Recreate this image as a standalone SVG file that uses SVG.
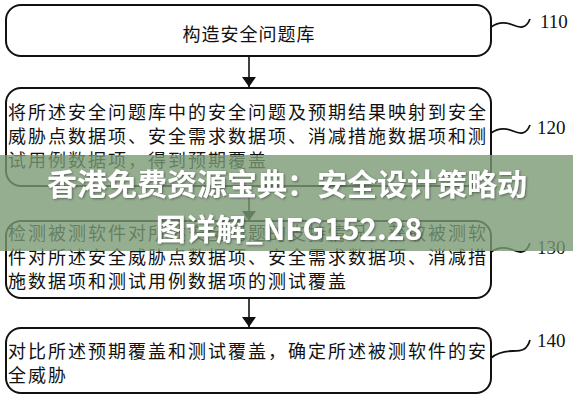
<svg xmlns="http://www.w3.org/2000/svg" width="573" height="400" viewBox="0 0 573 400">
<defs>
<style>
.box{fill:#fff;stroke:#111;stroke-width:2}
.t{font-family:"Noto Sans CJK SC","Noto Sans CJK JP",sans-serif;font-size:18px;letter-spacing:2px;fill:#111;dominant-baseline:central}
.lbl{font-family:"Liberation Serif",serif;font-size:19px;fill:#111}
.conn{fill:none;stroke:#111;stroke-width:1.6}
.tilde{fill:none;stroke:#111;stroke-width:1.8}
.ov{font-family:"Noto Sans CJK SC",sans-serif;font-size:30px;font-weight:700;fill:#fff;text-anchor:middle}
</style>
<marker id="ah" viewBox="0 0 10 14" refX="10" refY="7" markerWidth="10" markerHeight="14" markerUnits="userSpaceOnUse" orient="auto">
<path d="M0,0 L10,7 L0,14 Z" fill="#111"/>
</marker>
<filter id="sh" x="-5%" y="-20%" width="110%" height="140%">
<feDropShadow dx="1" dy="1" stdDeviation="1" flood-color="#333" flood-opacity="0.6"/>
</filter>
</defs>
<g id="connectors">
<line class="conn" x1="249" y1="56" x2="249" y2="87" marker-end="url(#ah)"/>
<line class="conn" x1="249" y1="186" x2="249" y2="221" marker-end="url(#ah)"/>
<line class="conn" x1="249" y1="298" x2="249" y2="327" marker-end="url(#ah)"/>
<path class="tilde" d="M491,27 C498,22 506,22 513,25 C520,28 526,29 530,19"/>
<path class="tilde" d="M491,133 C498,128 506,128 513,131 C520,134 526,135 530,125"/>
<path class="tilde" d="M491,252 C498,247 506,247 513,250 C520,253 526,254 530,243"/>
<path class="tilde" d="M491,358 C498,352 506,351 513,351 C522,351 527,350 530,340"/>
</g>
<g id="n110">
<rect class="box" x="6" y="5" width="485" height="51" rx="15"/>
<text class="t" x="249" y="33" text-anchor="middle" style="letter-spacing:1px">构造安全问题库</text>
<text class="lbl" x="540" y="28">110</text>
</g>
<g id="n120">
<rect class="box" x="6" y="88" width="485" height="98" rx="15"/>
<text class="t" x="8" y="111">将所述安全问题库中的安全问题及预期结果映射到安全</text>
<text class="t" x="8" y="135">威胁点数据项、安全需求数据项、消减措施数据项和测</text>
<text class="t" x="8" y="159">试用例数据项，得到预期覆盖</text>
<text class="lbl" x="537" y="134">120</text>
</g>
<g id="n130">
<rect class="box" x="6" y="221" width="485" height="77" rx="15"/>
<text class="t" x="8" y="232">检测被测软件对所述安全问题的支持情况，获取被测软</text>
<text class="t" x="8" y="256">件对所述安全威胁点数据项、安全需求数据项、消减措</text>
<text class="t" x="8" y="280">施数据项和测试用例数据项的测试覆盖</text>
<text class="lbl" x="537" y="254">130</text>
</g>
<g id="n140">
<rect class="box" x="6" y="328" width="485" height="65" rx="15"/>
<text class="t" x="8" y="350">对比所述预期覆盖和测试覆盖，确定所述被测软件的安</text>
<text class="t" x="8" y="374">全威胁</text>
<text class="lbl" x="537" y="347">140</text>
</g>
<g id="overlay">
<rect x="0" y="155" width="573" height="96" fill="#7a9a74" fill-opacity="0.8"/>
<text class="ov" x="287" y="195" filter="url(#sh)">香港免费资源宝典：安全设计策略动</text>
<text class="ov" x="289" y="240" filter="url(#sh)">图详解_NFG152.28</text>
</g>
</svg>
